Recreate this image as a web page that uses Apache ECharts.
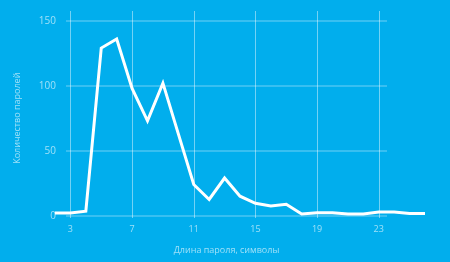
<!DOCTYPE html>
<html>
<head>
<meta charset="utf-8">
<script src="https://cdn.jsdelivr.net/npm/echarts@6/dist/echarts.min.js"></script>
<style>
html,body{margin:0;padding:0;background:#01aeed;}
#c{width:450px;height:262px;}
</style>
</head>
<body>
<div id="c"></div>
<script>
var lengths = ['2','3','4','5','6','7','8','9','10','11','12','13','14','15','16','17','18','19','20','21','22','23','24','25','26'];
var counts = [2,2,3.5,129,136,98,73,102,63,24,12.5,29,15,9.5,7.5,8.8,1.3,2.3,2.3,1.3,1.3,2.8,2.8,1.7,1.7];
var xTickLabels = ['3','7','11','15','19','23'];
var yTicks = [0,50,100,150];

var labelColor = 'rgba(255,255,255,0.62)';
var font = 'Open Sans';
var chart = echarts.init(document.getElementById('c'), null, {renderer:'canvas'});
chart.setOption({
  backgroundColor:'#01aeed',
  animation:false,
  grid:[
    {left:55, right:25, top:11, bottom:44},
    {left:66, right:63, top:20.7, bottom:46.3}
  ],
  xAxis:[
    {gridIndex:0, type:'category', data:lengths, boundaryGap:false,
     axisLine:{show:false}, axisTick:{show:false},
     axisLabel:{color:labelColor, fontSize:9, fontFamily:font, margin:7,
       interval:function(i,v){return xTickLabels.indexOf(v)>=0;}},
     splitLine:{show:true, interval:function(i,v){return xTickLabels.indexOf(v)>=0;},
       lineStyle:{color:'rgba(255,255,255,0.45)', width:1}}},
    {gridIndex:1, type:'value', min:0, max:1,
     name:'Длина пароля, символы', nameLocation:'middle', nameGap:30,
     nameTextStyle:{color:labelColor, fontSize:9, fontFamily:font},
     axisLine:{show:false}, axisTick:{show:false}, axisLabel:{show:false}, splitLine:{show:false}}
  ],
  yAxis:[
    {gridIndex:0, type:'value', min:-1.77, max:157.5, show:false},
    {gridIndex:1, type:'value', min:yTicks[0], max:yTicks[yTicks.length-1], interval:50,
     name:'Количество паролей', nameLocation:'middle', nameGap:44, nameRotate:90,
     nameTextStyle:{color:labelColor, fontSize:9, fontFamily:font},
     axisLine:{show:false}, axisTick:{show:false},
     axisLabel:{color:labelColor, fontSize:10, fontFamily:font, margin:10},
     splitLine:{show:true, lineStyle:{color:'rgba(255,255,255,0.22)', width:2}}}
  ],
  series:[{
    type:'line', xAxisIndex:0, yAxisIndex:0, data:counts,
    showSymbol:false, symbol:'none',
    lineStyle:{color:'#ffffff', width:3, join:'miter'}
  }]
});
</script>
</body>
</html>
